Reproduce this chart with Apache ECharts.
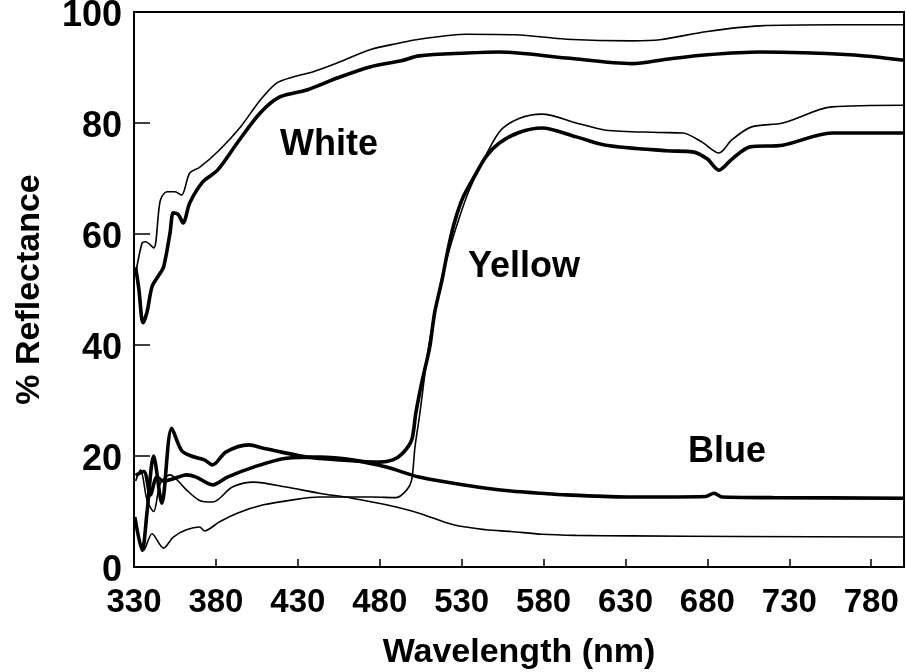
<!DOCTYPE html>
<html>
<head>
<meta charset="utf-8">
<script src="https://cdn.jsdelivr.net/npm/echarts@6/dist/echarts.min.js"></script>
<style>
html,body{margin:0;padding:0;background:#fff;}
#chart{width:906px;height:672px;}
</style>
</head>
<body>
<div id="chart"></div>
<script>
// Tick values
var xTicks = [330,380,430,480,530,580,630,680,730,780];
var yTicks = [0,20,40,60,80,100];

// White sample
var whiteThinX = [331,332,335,337,342,346,350,355,359,364,370,382,395,407,417,427,439,454,474,492,504,533,563,594,634,651,680,712,760,800];
var whiteThinY = [53,54.5,58.4,58.6,57.5,66,67.6,67.6,67,71,72,75.1,79.3,84.1,87.2,88.3,89.2,90.8,93.2,94.4,95.1,96,95.9,95.1,94.8,95,96.5,97.5,97.7,97.7];
var whiteThickX = [331,333,335.5,338,341,345,348,352,354,357,360,364,372,381,393,407,419,436,454,474,493,504,533,553,594,634,655,680,712,767,800];
var whiteThickY = [54,50,44,46,50.5,52.5,54,60.2,63.8,63.5,62,65.6,69.4,71.5,76.4,81.8,84.7,86,88.1,90.1,91.2,92.1,92.6,92.8,91.7,90.7,91.5,92.3,92.8,92.3,91.3];

// Yellow sample
var yellowThickX = [330.5,335,338,342,347,353,359,365,373,378,386,400,409,420,436,456,480,488,494,499.5,502,506,510.5,513.5,518,522,526,531,538,545,553,565,579,600,618,655,671,680,687,695,706,726,756,800];
var yellowThickY = [9,3,10,20,11.5,25,21,20,19.3,18.4,20.7,22,21.4,20.7,19.8,19.3,18.9,19.3,20.5,22.9,27.7,33.7,39.6,45.8,51.7,57.7,62.5,66.7,70.5,74,76.4,78.3,79.1,77.5,76,75,74.8,73.5,71.5,73.5,75.7,76,78.2,78.2];
var yellowThinX = [331,336,341,348,354,362,370,373,382,393,409,427,443,460,476,490,496.5,499.5,501.5,504.5,509,513,517,523,533,541,553,565,579,600,618,650,665,677,687,695,707,726,756,800];
var yellowThinY = [8,3,6,3.4,5.4,6.7,7.2,6.5,8.1,9.7,11.2,12.1,12.6,12.6,12.6,12.5,13.9,15.7,21.6,27.7,38,45,51,57.7,66.7,71.9,78.4,80.8,81.6,80,78.7,78.3,78.2,76.5,74.6,77,79.3,80,82.9,83.2];

// Blue sample
var blueThickX = [331,336,340,344,348,352,357,362,368,378,387,403,423,443,463,484,504,525,545,560,578,594,634,679,684,689,720,800];
var blueThickY = [16.5,17.2,13,16.2,15.5,15.7,16.2,16.6,16.2,14.8,16.2,18,19.6,19.8,19.3,18,16.2,15.1,14.2,13.7,13.3,13,12.6,12.7,13.3,12.6,12.5,12.4];
var blueThinX = [331,334,338,342,346,352,357,362,370,378,390,403,423,443,463,484,504,525,545,560,579,600,634,700,800];
var blueThinY = [15.5,17.5,12,10,15,16.6,15.5,13.9,12,11.7,14.4,15.3,14.4,13.3,12.4,11.2,9.7,7.6,6.7,6.4,5.9,5.7,5.6,5.5,5.4];

// Curve labels (data coordinates)
var labelTexts = ['White','Yellow','Blue'];
var labelX = [449,568,692];
var labelY = [76,54,20.7];

function pairs(xs, ys){ return xs.map(function(x,i){ return [x, ys[i]]; }); }

var FONT = "'Liberation Sans', Arial, Helvetica, sans-serif";
function lineSeries(xs, ys, w){
  return {
    type:'line', data: pairs(xs, ys), symbol:'none', smooth:0.3,
    lineStyle:{color:'#000', width:w}, silent:true
  };
}

var chart = echarts.init(document.getElementById('chart'), null, {renderer:'canvas'});
chart.setOption({
  animation:false,
  backgroundColor:'#fff',
  grid:{left:134, right:2, top:12, bottom:105, containLabel:false, outerBoundsMode:'none',
        show:true, borderColor:'#000', borderWidth:2, backgroundColor:'transparent'},
  xAxis:{
    type:'value', min:330, max:800, interval:50,
    name:'Wavelength (nm)', nameLocation:'middle', nameGap:86,
    nameTextStyle:{fontFamily:FONT, fontWeight:'bold', fontSize:34, color:'#000', verticalAlign:'middle'},
    axisLine:{show:true, lineStyle:{color:'#000', width:2}},
    axisTick:{show:true, inside:true, length:8, lineStyle:{color:'#000', width:1.5}, customValues:xTicks},
    axisLabel:{fontFamily:FONT, fontWeight:'bold', fontSize:33, color:'#000', margin:19, customValues:xTicks},
    splitLine:{show:false}
  },
  yAxis:{
    type:'value', min:0, max:100, interval:20,
    name:'% Reflectance', nameLocation:'middle', nameGap:104, nameRotate:90,
    nameTextStyle:{fontFamily:FONT, fontWeight:'bold', fontSize:34, color:'#000', verticalAlign:'middle'},
    axisLine:{show:true, lineStyle:{color:'#000', width:2}},
    axisTick:{show:true, inside:true, length:16, lineStyle:{color:'#000', width:1.5}, customValues:yTicks},
    axisLabel:{fontFamily:FONT, fontWeight:'bold', fontSize:36, color:'#000', margin:12,
               formatter:'{a|{value}}', rich:{a:{fontFamily:FONT, fontWeight:'bold', fontSize:36, color:'#000', padding:[8,0,0,0]}},
               customValues:yTicks},
    splitLine:{show:false}
  },
  series:[
    lineSeries(whiteThinX, whiteThinY, 1.6),
    lineSeries(whiteThickX, whiteThickY, 3.6),
    lineSeries(yellowThinX, yellowThinY, 1.6),
    lineSeries(yellowThickX, yellowThickY, 3.6),
    lineSeries(blueThinX, blueThinY, 1.6),
    lineSeries(blueThickX, blueThickY, 3.6)
  ]
});

var g = labelTexts.map(function(t,i){
  var p = chart.convertToPixel({gridIndex:0}, [labelX[i], labelY[i]]);
  return {type:'text', x:p[0], y:p[1], style:{text:t, fill:'#000', font:'bold 36px ' + FONT, textAlign:'center', textVerticalAlign:'middle'}};
});
chart.setOption({graphic:g});
</script>
</body>
</html>
